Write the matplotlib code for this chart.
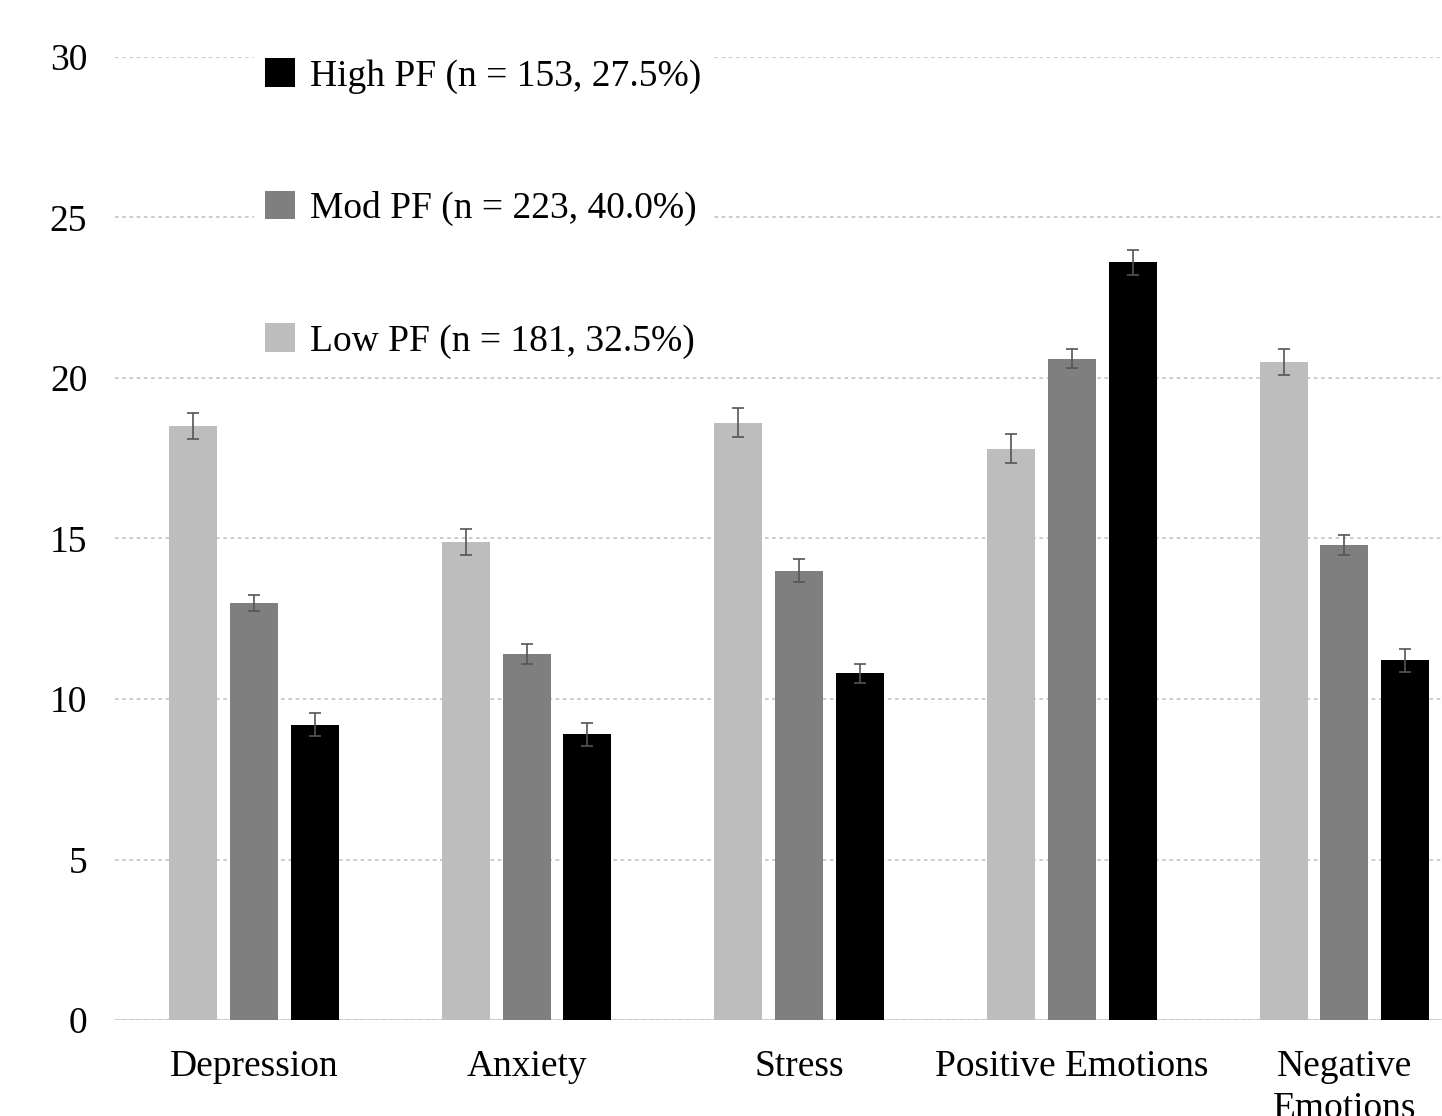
import matplotlib.pyplot as plt
import numpy as np
from matplotlib.patches import Patch

# data
categories = ["Depression", "Anxiety", "Stress", "Positive Emotions", "Negative\nEmotions"]
low_pf = [18.5, 14.9, 18.6, 17.8, 20.5]
mod_pf = [13.0, 11.4, 14.0, 20.6, 14.8]
high_pf = [9.2, 8.9, 10.8, 23.6, 11.2]
low_err = [0.40, 0.40, 0.45, 0.45, 0.40]
mod_err = [0.25, 0.30, 0.35, 0.30, 0.30]
high_err = [0.35, 0.35, 0.30, 0.40, 0.35]
group_labels = ["Low PF (n = 181, 32.5%)", "Mod PF (n = 223, 40.0%)", "High PF (n = 153, 27.5%)"]
colors = ["#bdbdbd", "#7f7f7f", "#000000"]

plt.rcParams["font.family"] = ["Liberation Serif", "DejaVu Serif"]

fig = plt.figure(figsize=(14.42, 11.16), dpi=100)
ax = fig.add_axes([0.0798, 0.086, 0.947, 0.863])

x = np.arange(len(categories))
offset = 0.223
width = 0.176
series = [(low_pf, low_err), (mod_pf, mod_err), (high_pf, high_err)]
for i, (vals, errs) in enumerate(series):
    ax.bar(x + (i - 1) * offset, vals, width, color=colors[i], zorder=3)
    ax.errorbar(x + (i - 1) * offset, vals, yerr=errs, fmt="none", ecolor="#555555",
                elinewidth=1.2, capsize=4, capthick=1.2, zorder=4)

ax.set_ylim(0, 30)
ax.set_xlim(-0.51, 4.5)
ax.set_yticks(range(0, 31, 5))
ax.set_xticks(x)
ax.set_xticklabels(categories, fontsize=27, linespacing=1.3)
ax.tick_params(axis="y", labelsize=27, length=0, pad=20)
ax.tick_params(axis="x", length=0, pad=21)
for s in ax.spines.values():
    s.set_visible(False)
ax.yaxis.grid(True, linestyle=(0, (2, 2)), color="#c8c8c8", linewidth=1.3, zorder=0)
ax.axhline(0, color="#d9d9d9", linewidth=1.5, zorder=1)

# legend lists High first, like the reference
handles = [Patch(facecolor=colors[i]) for i in (2, 1, 0)]
labels = [group_labels[i] for i in (2, 1, 0)]
leg = ax.legend(handles, labels, loc="upper left", bbox_to_anchor=(0.088, 1.03),
                fontsize=27, frameon=True, edgecolor="none", framealpha=1,
                labelspacing=2.59, handlelength=0.8, handleheight=0.8,
                handletextpad=0.4, borderpad=0.3)
leg.set_zorder(5)

fig.savefig("out.png", dpi=100)
